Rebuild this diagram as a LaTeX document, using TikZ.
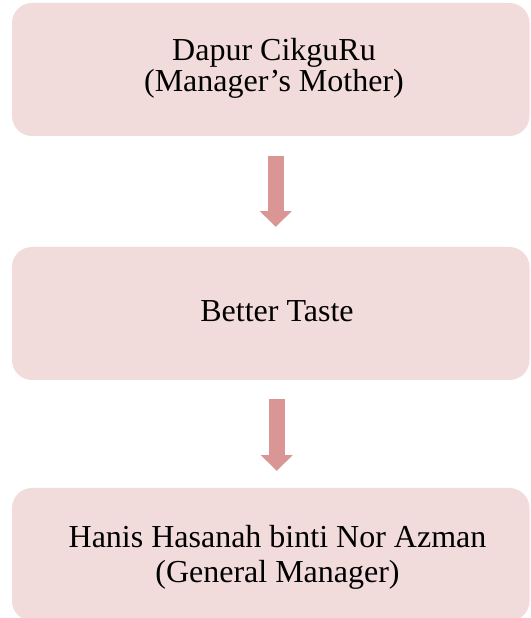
\documentclass[tikz,border=0pt]{standalone}
\usepackage{fontspec}
\setmainfont{Liberation Serif}
\usetikzlibrary{arrows.meta}
\definecolor{boxfill}{HTML}{F2DCDB}
\definecolor{arrowfill}{HTML}{D99694}
\tikzset{
  box/.style={fill=boxfill, draw=none, rounded corners=20pt, minimum width=517.5pt, minimum height=133pt, inner sep=0pt},
  txt/.style={align=center, inner sep=0pt, font=\fontsize{32}{33}\selectfont, text=black},
  blockarrow/.style={draw=arrowfill, line width=15.6pt, -{Triangle[width=31pt,length=15.6pt]}},
}
\begin{document}
\begin{tikzpicture}[x=1pt,y=1pt]
\useasboundingbox (0,0) rectangle (530,618);
\clip (0,0) rectangle (530,618);
\node[box] (b1) at (270.75,548.5) {};
\node[box] (b2) at (270.75,304.5) {};
\node[box] (b3) at (270.75,63.5) {};
\node[txt] (t1) at (274,550) {Dapur CikguRu\\[-2pt](Manager’s Mother)};
\node[txt] (t2) at (277,306.5) {Better Taste};
\node[txt] (t3) at (277.5,60.7) {Hanis Hasanah binti Nor Azman\\[2pt](General Manager)};
\draw[blockarrow, shorten <=20pt, shorten >=20pt] ([xshift=5pt]b1.south) -- ([xshift=5pt]b2.north);
\draw[blockarrow, shorten <=19pt, shorten >=17pt] ([xshift=6pt]b2.south) -- ([xshift=6pt]b3.north);
\end{tikzpicture}
\end{document}
